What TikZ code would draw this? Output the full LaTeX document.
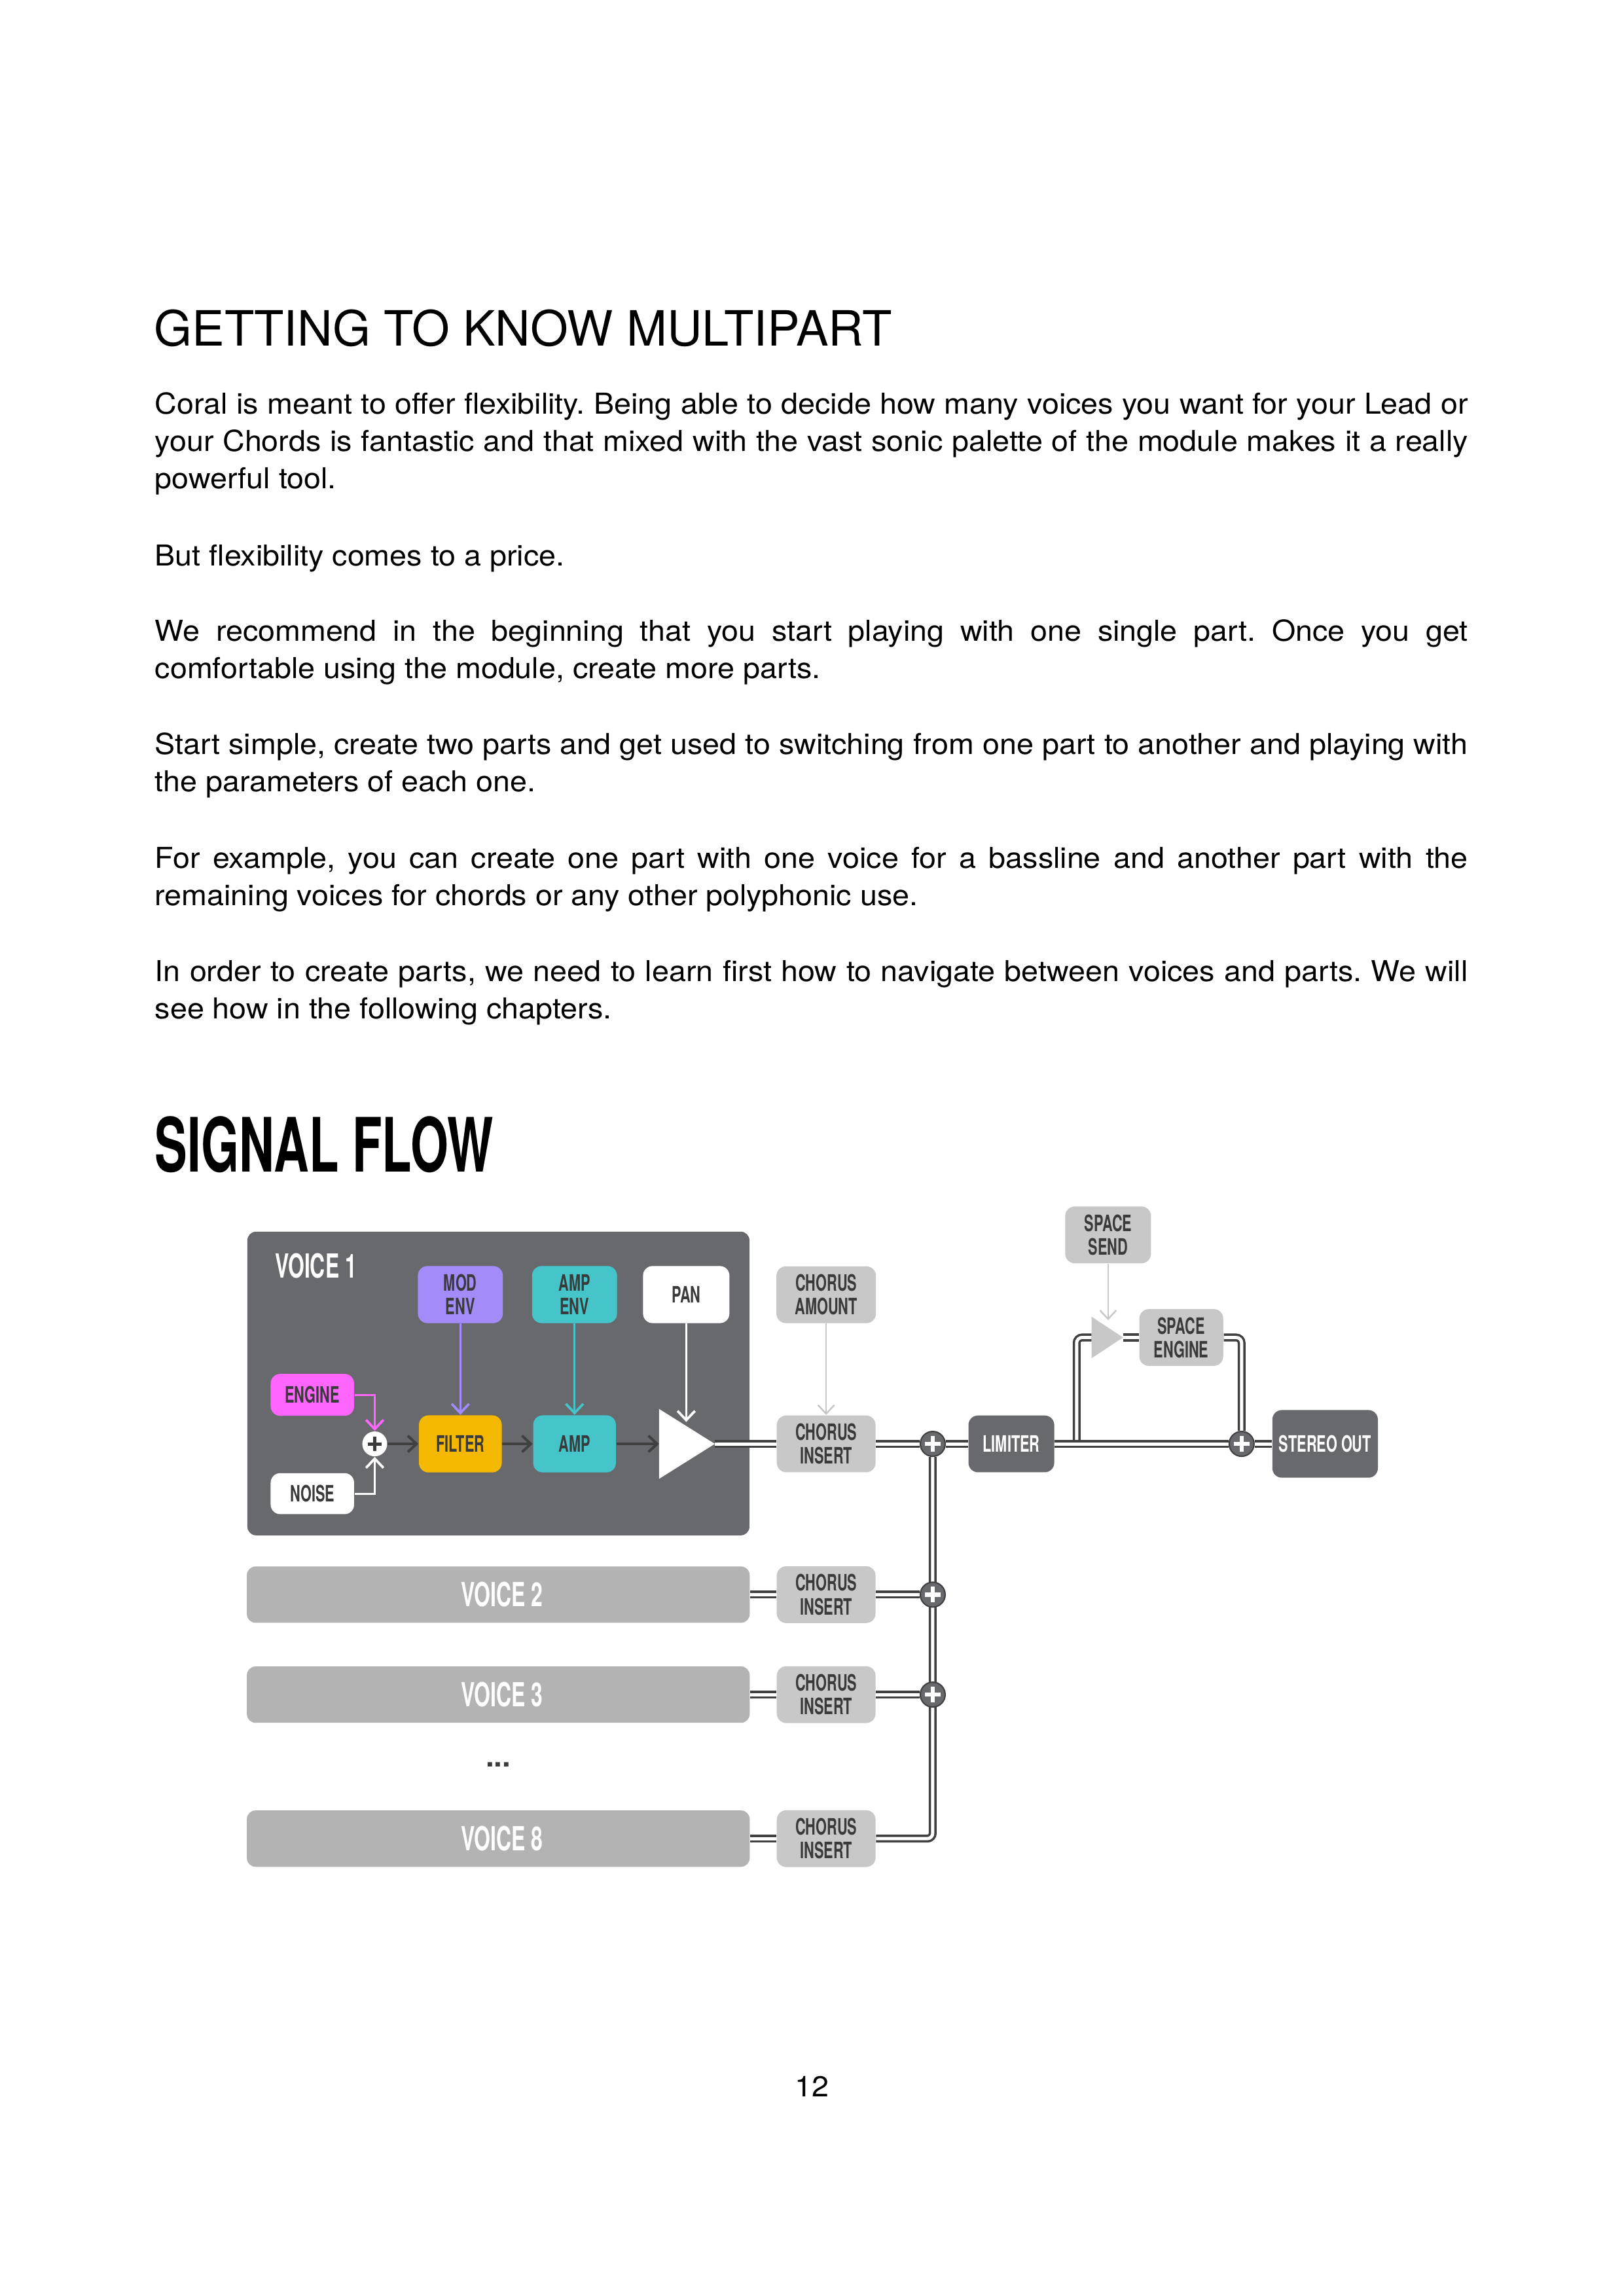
\documentclass[tikz,border=0pt]{standalone}
\usepackage{fontspec}
\setmainfont{TeX Gyre Heros}[FakeStretch=1.06]
\newfontfamily\titlefont{TeX Gyre Heros}
\newfontfamily\condfont{TeX Gyre Heros}[FakeStretch=0.63]
\newfontfamily\headfont{TeX Gyre Heros}[FakeStretch=0.65]
\usetikzlibrary{arrows.meta}
\pgfdeclarelayer{back}
\pgfdeclarelayer{bg}
\pgfsetlayers{back,bg,main}
\newdimen\dpx \dpx=0.53878pt
\definecolor{darkbox}{HTML}{68696D}
\definecolor{lightbox}{HTML}{C8C8C8}
\definecolor{vbarc}{HTML}{B3B3B3}
\definecolor{purp}{HTML}{A38BFA}
\definecolor{tealc}{HTML}{45C4C9}
\definecolor{yellc}{HTML}{F4B800}
\definecolor{magc}{HTML}{FF66FF}
\definecolor{lbl}{HTML}{3A3A3A}
\definecolor{linedark}{HTML}{404040}
\newcommand{\bodyJ}[3]{\node[body] (#1) at (105.5,#2) {\makebox[897\dpx][s]{#3}};}
\newcommand{\bodyL}[3]{\node[body] (#1) at (105.5,#2) {#3};}
\frenchspacing
\begin{document}
\frenchspacing
\begin{tikzpicture}[x=0.53878pt,y=-0.53878pt,
  body/.style={anchor=base west,inner sep=0pt,font=\frenchspacing\fontsize{10.6}{13}\selectfont},
  sz/.style 2 args={minimum width={#1*0.53878pt},minimum height={#2*0.53878pt}},
  box/.style={rounded corners=3.5pt,inner sep=0pt,align=center,text=lbl,
    font=\condfont\bfseries\fontsize{8.3}{8.7}\selectfont},
  lbox/.style={box,fill=lightbox},
  dbox/.style={box,fill=darkbox,text=white},
  vbar/.style={rounded corners=3.2pt,inner sep=0pt,fill=vbarc,text=white,sz={343.5}{38.5},
    font=\condfont\bfseries\fontsize{12.2}{14}\selectfont},
  dbl/.style={draw=linedark,line width=0.85pt,double=white,double distance=1.2pt},
  arr/.style={draw=linedark,line width=0.95pt,-{Straight Barb[length=3.2pt,width=6pt]}},
  carr/.style={line width=0.7pt,-{Straight Barb[length=3.4pt,width=6.4pt,line width=0.9pt]}},
  garr/.style={draw=lightbox,line width=0.6pt,-{Straight Barb[length=3.2pt,width=6pt]}},
  plusd/.style={circle,fill=darkbox,draw=linedark,line width=0.5pt,inner sep=0pt,minimum size={17*0.53878pt},
    path picture={\draw[white,line width=1.5pt]
      ([xshift=-2.9pt]path picture bounding box.center) -- ([xshift=2.9pt]path picture bounding box.center)
      ([yshift=-2.9pt]path picture bounding box.center) -- ([yshift=2.9pt]path picture bounding box.center);}},
  plusw/.style={circle,fill=white,inner sep=0pt,minimum size={17*0.53878pt},
    path picture={\draw[lbl,line width=1.2pt]
      ([xshift=-2.6pt]path picture bounding box.center) -- ([xshift=2.6pt]path picture bounding box.center)
      ([yshift=-2.6pt]path picture bounding box.center) -- ([yshift=2.6pt]path picture bounding box.center);}}
]
\begin{pgfonlayer}{back}
\fill[white] (0,0) rectangle (1109,1568.7);
\node[fill=darkbox,rounded corners=3.2pt,inner sep=0pt,sz={343}{207.5}] (v1) at (340.5,945.25) {};
\end{pgfonlayer}
\useasboundingbox (0,0) rectangle (1109,1568.7);

% ---------- text ----------
\node[anchor=base west,inner sep=0pt,font=\titlefont\fontsize{17.9}{20}\selectfont] (title) at (105,236.5) {GETTING TO KNOW MULTIPART};
\bodyJ{t1}{283}{Coral is meant to offer flexibility. Being able to decide how many voices you want for your Lead or}
\bodyJ{t2}{308.5}{your Chords is fantastic and that mixed with the vast sonic palette of the module makes it a really}
\bodyL{t3}{334}{powerful tool.}
\bodyL{t4}{386.5}{But flexibility comes to a price.}
\bodyJ{t5}{438}{We recommend in the beginning that you start playing with one single part. Once you get}
\bodyL{t6}{463.5}{comfortable using the module, create more parts.}
\bodyJ{t7}{515.5}{Start simple, create two parts and get used to switching from one part to another and playing with}
\bodyL{t8}{541}{the parameters of each one.}
\bodyJ{t9}{593}{For example, you can create one part with one voice for a bassline and another part with the}
\bodyL{t10}{618.5}{remaining voices for chords or any other polyphonic use.}
\bodyJ{t11}{670.5}{In order to create parts, we need to learn first how to navigate between voices and parts. We will}
\bodyL{t12}{696}{see how in the following chapters.}
\node[anchor=base west,inner sep=0pt,font=\headfont\bfseries\fontsize{27.6}{30}\selectfont] (sigflow) at (105.5,800.5) {SIGNAL FLOW};
\node[anchor=base,inner sep=0pt,font=\fontsize{10.6}{13}\selectfont] (pageno) at (554.7,1432.5) {12};

% ---------- voice 1 ----------
\node[anchor=base west,inner sep=0pt,text=white,font=\condfont\bfseries\fontsize{12.2}{14}\selectfont] (v1lbl) at (187.5,873.3) {VOICE 1};
\node[box,fill=purp,sz={58}{39}] (modenv) at (314.5,884.5) {MOD\\ENV};
\node[box,fill=tealc,sz={58}{39}] (ampenv) at (392.5,884.5) {AMP\\ENV};
\node[box,fill=white,sz={59}{39}] (pan) at (468.8,884.5) {PAN};
\node[box,fill=magc,sz={57}{28.6}] (engine) at (213.4,953) {ENGINE};
\node[box,fill=white,sz={57}{28}] (noise) at (213.4,1020.5) {NOISE};
\node[plusw] (sum1) at (256,986.5) {};
\node[box,fill=yellc,sz={56.6}{39}] (filter) at (314.5,986.5) {FILTER};
\node[box,fill=tealc,sz={56.5}{39}] (amp) at (392.5,986.5) {AMP};
\fill[white] (450.2,962.6) -- (488.3,986.5) -- (450.2,1010.4) -- cycle;
\coordinate (pan1w) at (450.2,986.5);
\coordinate (pan1o) at (488.3,986.5);
\coordinate (pan1n) at (468.8,971.5);

% ---------- master section ----------
\node[lbox,sz={68}{38.8}] (chamt) at (564.4,884.6) {CHORUS\\AMOUNT};
\node[lbox,sz={67.5}{38.8}] (ci1) at (564.4,986.5) {CHORUS\\INSERT};
\node[plusd] (mix1) at (637.2,986.5) {};
\node[dbox,sz={58.6}{38.8}] (limiter) at (690.9,986.5) {LIMITER};
\node[lbox,sz={58.6}{38.8}] (ssend) at (757,843.7) {SPACE\\SEND};
\fill[lightbox] (745.7,899.6) -- (767.2,913.8) -- (745.7,928) -- cycle;
\coordinate (spw) at (745.7,913.8);
\coordinate (spo) at (767.2,913.8);
\coordinate (spn) at (757,902);
\node[lbox,sz={57.3}{38.8}] (sengine) at (807,913.8) {SPACE\\ENGINE};
\node[plusd] (mix2) at (848.2,986.5) {};
\node[dbox,sz={72.1}{46.2}] (stereo) at (905.25,986.5) {STEREO OUT};
\coordinate (branch) at (735.5,986.5);

% ---------- other voices ----------
\node[vbar] (v2) at (340.4,1089.5) {\hspace*{5\dpx}VOICE 2};
\node[vbar] (v3) at (340.4,1157.8) {\hspace*{5\dpx}VOICE 3};
\node[text=lbl,inner sep=0pt,font=\titlefont\bfseries\fontsize{11}{12}\selectfont] (dots) at (340.4,1205.5) {...};
\node[vbar] (v8) at (340.4,1256.2) {\hspace*{5\dpx}VOICE 8};
\node[lbox,sz={67.5}{38.8}] (ci2) at (564.4,1089.5) {CHORUS\\INSERT};
\node[lbox,sz={67.5}{38.8}] (ci3) at (564.4,1157.8) {CHORUS\\INSERT};
\node[lbox,sz={67.5}{38.8}] (ci8) at (564.4,1256.2) {CHORUS\\INSERT};
\node[plusd] (mix3) at (637.2,1089.5) {};
\node[plusd] (mix4) at (637.2,1157.8) {};

% ---------- connectors ----------
\begin{pgfonlayer}{bg}
\draw[dbl] (pan1o) -- (ci1.west);
\draw[dbl] (ci1.east) -- (mix1.west);
\draw[dbl] (mix1.east) -- (limiter.west);
\draw[dbl,rounded corners=2pt] (branch) |- (spw);
\draw[dbl] (spo) -- (sengine.west);
\draw[dbl,rounded corners=2pt] (sengine.east) -| (mix2.north);
\draw[dbl] (limiter.east) -- (mix2.west);
\draw[dbl] (mix2.east) -- (stereo.west);
\draw[dbl,rounded corners=2pt] (mix1.south) |- (ci8.east);
\draw[dbl] (v2.east) -- (ci2.west);
\draw[dbl] (v3.east) -- (ci3.west);
\draw[dbl] (v8.east) -- (ci8.west);
\draw[dbl] (ci2.east) -- (mix3.west);
\draw[dbl] (ci3.east) -- (mix4.west);
\draw[carr,draw=magc] (engine.east) -| (sum1.north);
\draw[carr,draw=white] (noise.east) -| (sum1.south);
\draw[arr] (sum1.east) -- (filter.west);
\draw[arr] (filter.east) -- (amp.west);
\draw[arr] (amp.east) -- (pan1w);
\draw[carr,draw=purp] (modenv.south) -- (filter.north);
\draw[carr,draw=tealc] (ampenv.south) -- (amp.north);
\draw[carr,draw=white] (pan.south) -- (pan1n);
\draw[garr] (chamt.south) -- (ci1.north);
\draw[garr] (ssend.south) -- (spn);
\end{pgfonlayer}
\end{tikzpicture}
\end{document}
